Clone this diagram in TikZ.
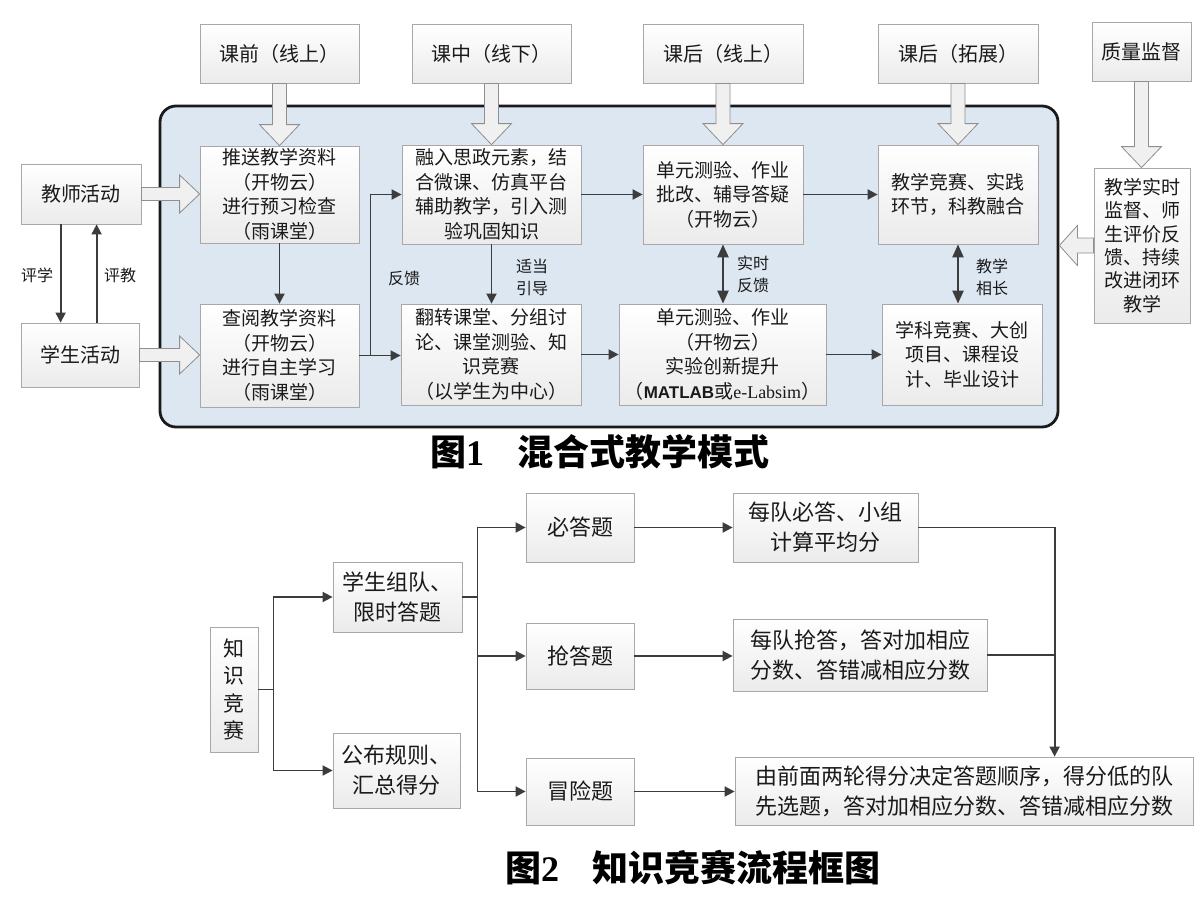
\documentclass[tikz,border=0pt]{standalone}
\usepackage{fontspec}
\setmainfont{Noto Sans CJK SC}
\newfontfamily\numfont{Liberation Serif}
\newfontfamily\latsans{Liberation Sans}
\newfontfamily\latserif{Liberation Serif}
\usetikzlibrary{arrows.meta,calc,shadows}
\definecolor{framefill}{HTML}{DDE7F2}
\definecolor{frameline}{HTML}{1A1A1A}
\definecolor{boxline}{HTML}{A8A8A8}
\definecolor{boxbot}{HTML}{EBEBEB}
\definecolor{connc}{HTML}{3C3C3C}
\definecolor{txt}{HTML}{1A1A1A}
\definecolor{hollowline}{HTML}{8F8F8F}
\newcommand\fsz[2]{\fontsize{#1}{#2}\selectfont}
\newcommand\hdown[2]{\path[hollowarrow] let \p1=(#1.south), \p2=(#2.north) in
  (\x1-7pt,\y1) -- (\x1+7pt,\y1) -- (\x1+7pt,\y2+21pt) -- (\x1+20pt,\y2+21pt) -- (\x1,\y2)
  -- (\x1-20pt,\y2+21pt) -- (\x1-7pt,\y2+21pt) -- cycle;}
\newcommand\hright[2]{\path[hollowarrow] let \p1=(#1.east), \p2=(#2.west) in
  (\x1,\y1+6.5pt) -- (\x2-20pt,\y1+6.5pt) -- (\x2-20pt,\y1+19pt) -- (\x2,\y1)
  -- (\x2-20pt,\y1-19pt) -- (\x2-20pt,\y1-6.5pt) -- (\x1,\y1-6.5pt) -- cycle;}
\newcommand\hleft[2]{\path[hollowarrow] let \p1=(#1.west), \p2=(#2.east) in
  (\x1,\y1+7.5pt) -- (\x2+18pt,\y1+7.5pt) -- (\x2+18pt,\y1+20pt) -- (\x2,\y1)
  -- (\x2+18pt,\y1-20pt) -- (\x2+18pt,\y1-7.5pt) -- (\x1,\y1-7.5pt) -- cycle;}
\tikzset{
  tbox/.style={draw=boxline, line width=0.8pt, top color=white, bottom color=boxbot,
    align=center, inner sep=0pt, text=txt, font=\fsz{19}{24.5},
    drop shadow={shadow xshift=1.3pt, shadow yshift=-1.3pt, opacity=0.3, fill=black!35}},
  bbox/.style={tbox, font=\fsz{22}{30}},
  framebox/.style={draw=frameline, line width=2.8pt, fill=framefill, rounded corners=16pt},
  hollowarrow/.style={draw=hollowline, line width=0.8pt, fill=white!94!black},
  conn/.style={draw=connc, line width=1.8pt, -{Triangle[length=10pt,width=10pt]}},
  dconn/.style={draw=connc, line width=2.3pt, {Triangle[length=13pt,width=11pt]}-{Triangle[length=13pt,width=11pt]}},
  plainline/.style={draw=connc, line width=1.8pt},
  lbl/.style={font=\fsz{16}{22}, align=center, inner sep=0pt, text=txt},
  captext/.style={font=\fsz{36}{40}\bfseries, inner sep=0pt, anchor=west, text=black}
}
\begin{document}
\begin{tikzpicture}[x=1pt,y=-1pt]
\fill[white] (0,0) rectangle (1200,902);
\useasboundingbox (0,0) rectangle (1200,902);

% ---------- Figure 1 ----------
\node[framebox, minimum width=898pt, minimum height=321pt] (frame) at (609,266.5) {};

\node[tbox, minimum width=159pt, minimum height=59pt, font=\fsz{20}{24}] (h1) at (279.5,53.5) {课前（线上）};
\node[tbox, minimum width=159pt, minimum height=59pt, font=\fsz{20}{24}] (h2) at (491.5,53.5) {课中（线下）};
\node[tbox, minimum width=160pt, minimum height=59pt, font=\fsz{20}{24}] (h3) at (723,53.5) {课后（线上）};
\node[tbox, minimum width=160pt, minimum height=59pt, font=\fsz{20}{24}] (h4) at (958,53.5) {课后（拓展）};
\node[tbox, minimum width=99pt, minimum height=59pt, font=\fsz{20}{24}] (h5) at (1141.5,51.5) {质量监督};

\node[tbox, minimum width=120pt, minimum height=60pt, font=\fsz{20}{24}] (t) at (81,194) {教师活动};
\node[tbox, minimum width=118pt, minimum height=64pt, font=\fsz{20}{24}] (s) at (80,355) {学生活动};

\node[tbox, minimum width=159pt, minimum height=97pt] (a1) at (279.5,194.5) {推送教学资料\\（开物云）\\进行预习检查\\（雨课堂）};
\node[tbox, minimum width=179pt, minimum height=99pt] (a2) at (491.5,194.5) {融入思政元素，结\\合微课、仿真平台\\辅助教学，引入测\\验巩固知识};
\node[tbox, minimum width=160pt, minimum height=99pt] (a3) at (723,194.5) {单元测验、作业\\批改、辅导答疑\\（开物云）};
\node[tbox, minimum width=160pt, minimum height=99pt] (a4) at (958,194.5) {教学竞赛、实践\\环节，科教融合};
\node[tbox, minimum width=96pt, minimum height=155pt, font=\fsz{19}{23.3}] (q) at (1142,245.5) {教学实时\\监督、师\\生评价反\\馈、持续\\改进闭环\\教学};

\node[tbox, minimum width=159pt, minimum height=103pt] (b1) at (279.5,355.5) {查阅教学资料\\（开物云）\\进行自主学习\\（雨课堂）};
\node[tbox, minimum width=180pt, minimum height=101pt] (b2) at (491,354.5) {翻转课堂、分组讨\\论、课堂测验、知\\识竞赛\\（以学生为中心）};
\node[tbox, minimum width=207pt, minimum height=101pt] (b3) at (722.5,354.5) {单元测验、作业\\（开物云）\\实验创新提升\\（{\latsans\bfseries\fontsize{17}{24}\selectfont MATLAB}或{\latserif\fontsize{18}{24}\selectfont e-Labsim}）};
\node[tbox, minimum width=160pt, minimum height=101pt] (b4) at (962,354.5) {学科竞赛、大创\\项目、课程设\\计、毕业设计};

% hollow block arrows
\hdown{h1}{a1}
\hdown{h2}{a2}
\hdown{h3}{a3}
\hdown{h4}{a4}
\hdown{h5}{q}
\hright{t}{a1}
\hright{s}{b1}
\hleft{q}{frame}

% connectors
\draw[conn] ($(t.south west)+(40,0)$) coordinate (pxa) -- (pxa |- s.north);
\draw[conn] ($(s.north west)+(76,0)$) coordinate (pxb) -- (pxb |- t.south);
\node[lbl] (lpx) at (37,275) {评学};
\node[lbl] (lpj) at (120,275) {评教};

\draw[conn] (a1.south) -- (a1.south |- b1.north);
\draw[conn] (b1.east) -- ++(11,0) coordinate (fb) |- (a2.west);
\draw[conn] (fb) -- (fb -| b2.west);
\node[lbl] (lfk) at (404,278) {反馈};

\draw[conn] (a2.south) -- (a2.south |- b2.north);
\node[lbl] (lyd) at (532,277) {适当\\引导};

\draw[conn] (a2.east) -- (a3.west);
\draw[conn] (b2.east) -- (b2.east -| b3.west);
\draw[conn] (a3.east) -- (a4.west);
\draw[conn] (b3.east) -- (b3.east -| b4.west);

\draw[dconn] (a3.south) -- (a3.south |- b3.north);
\node[lbl] (lss) at (753,274) {实时\\反馈};
\draw[dconn] (a4.south) -- (a4.south |- b4.north);
\node[lbl] (lxz) at (992,277) {教学\\相长};

\node[captext] (cap1) at (430,452) {图{\numfont\bfseries 1}\hspace{33pt}混合式教学模式};

% ---------- Figure 2 ----------
\node[bbox, minimum width=48pt, minimum height=125pt, font=\fsz{21}{27.5}] (k) at (234,689.5) {知\\识\\竞\\赛};
\node[bbox, minimum width=129pt, minimum height=70pt] (g1) at (397.5,597) {学生组队、\\限时答题};
\node[bbox, minimum width=127pt, minimum height=75pt] (g2) at (396.5,770.5) {公布规则、\\汇总得分};
\node[bbox, minimum width=108pt, minimum height=69pt] (c1) at (580,527.5) {必答题};
\node[bbox, minimum width=108pt, minimum height=66pt] (c2) at (580,656) {抢答题};
\node[bbox, minimum width=108pt, minimum height=67pt] (c3) at (580,791.5) {冒险题};
\node[bbox, minimum width=185pt, minimum height=69pt] (d1) at (825.5,527.5) {每队必答、小组\\计算平均分};
\node[bbox, minimum width=254pt, minimum height=72pt] (d2) at (860,655) {每队抢答，答对加相应\\分数、答错减相应分数};
\node[bbox, minimum width=458pt, minimum height=68pt] (d3) at (964,791) {由前面两轮得分决定答题顺序，得分低的队\\先选题，答对加相应分数、答错减相应分数};

\draw[conn] (k.east) -- ++(15,0) coordinate (kj) |- (g1.west);
\draw[conn] (kj) |- (g2.west);
\draw[plainline] (g1.east) -- ++(15,0) coordinate (gj);
\draw[conn] (gj |- c1.west) coordinate (gt) -- (c1.west);
\draw[plainline] (gt) -- (gj |- c3.west);
\draw[conn] (gj |- c2.west) -- (c2.west);
\draw[conn] (gj |- c3.west) -- (c3.west);
\draw[conn] (c1.east) -- (d1.west);
\draw[conn] (c2.east) -- (c2.east -| d2.west);
\draw[conn] (c3.east) -- (c3.east -| d3.west);
\coordinate (dj) at ($(d3.north west)+(320,0)$);
\draw[conn] (d1.east) -| (dj);
\draw[plainline] (d2.east) -- (d2.east -| dj);

\node[captext] (cap2) at (505,868) {图{\numfont\bfseries 2}\hspace{33pt}知识竞赛流程框图};
\end{tikzpicture}
\end{document}
